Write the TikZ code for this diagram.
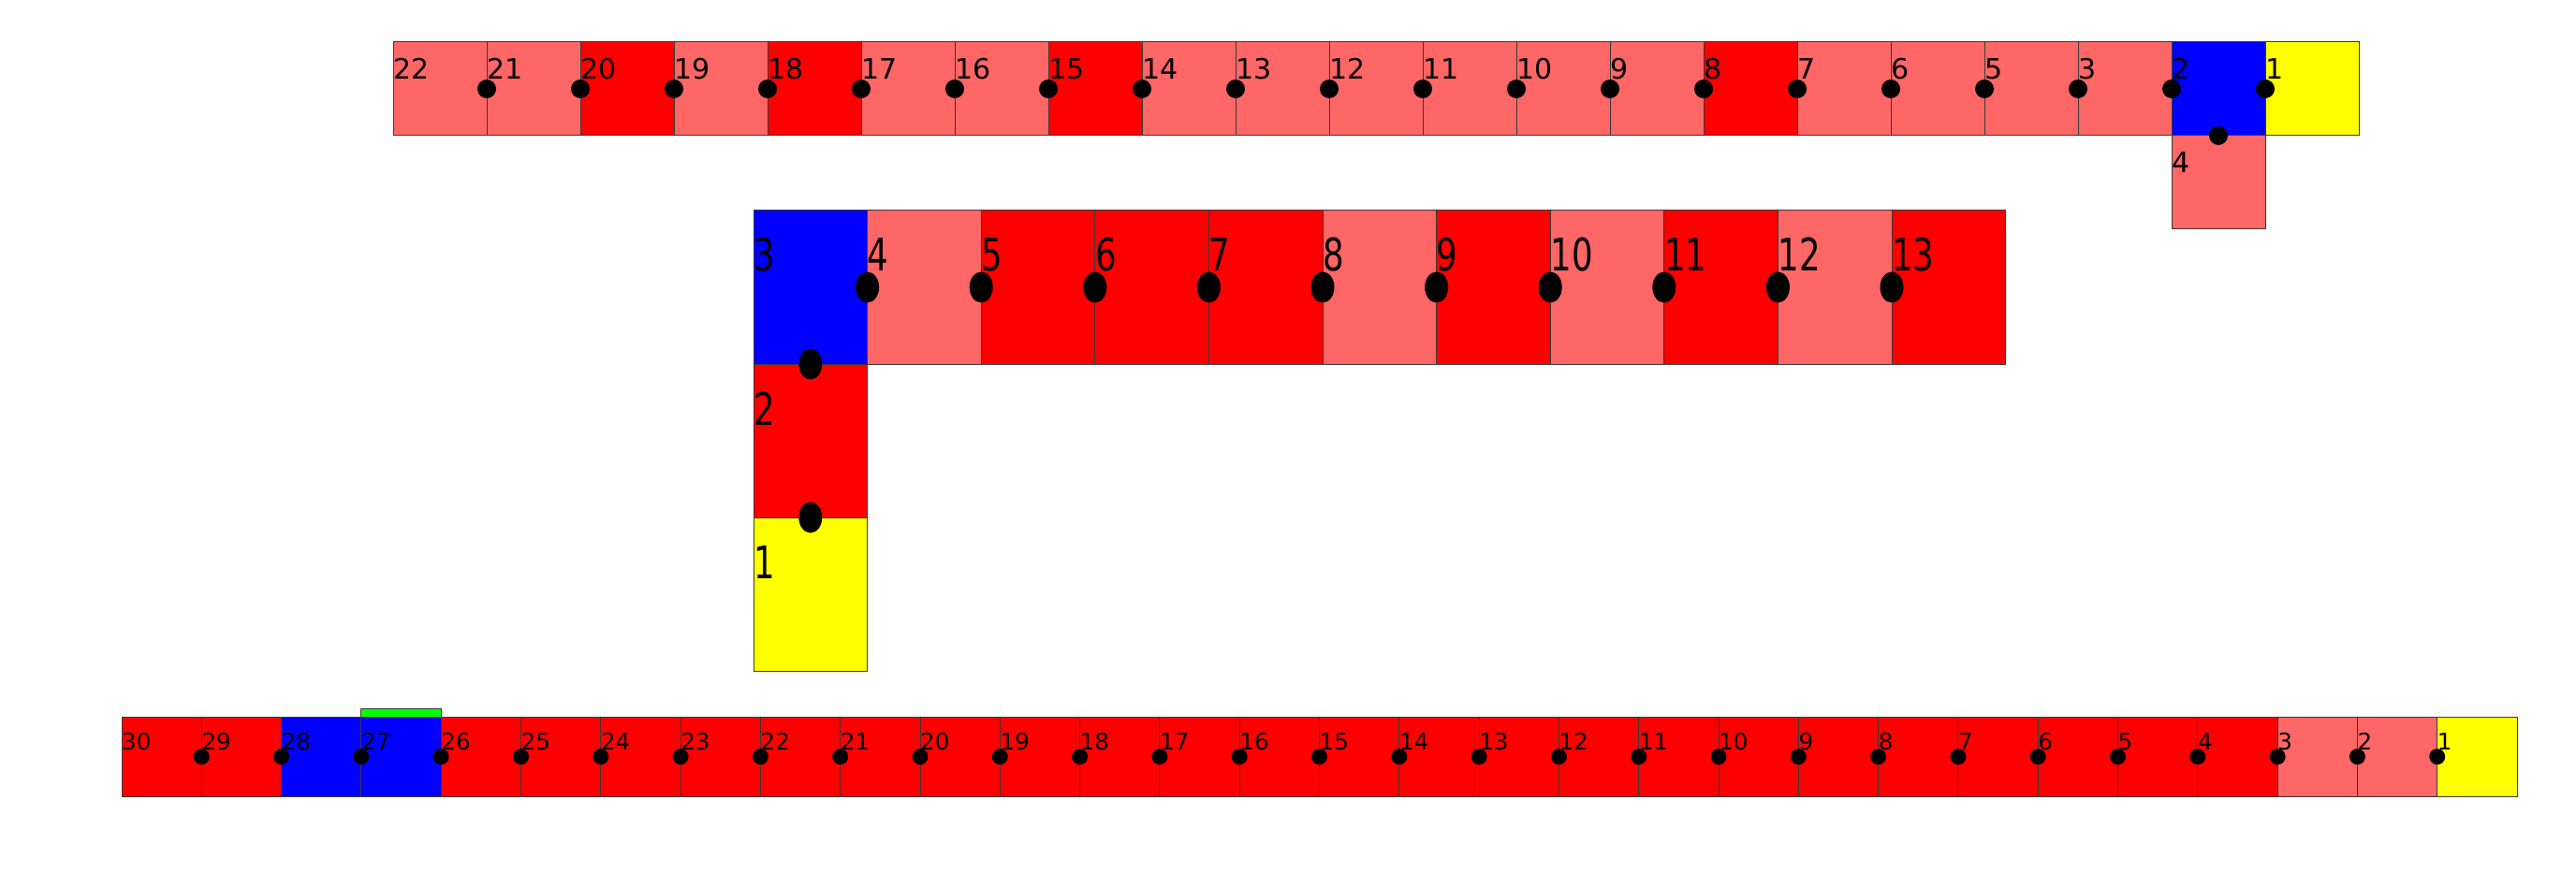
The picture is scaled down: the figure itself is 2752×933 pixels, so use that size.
\documentclass[tikz,border=0pt]{standalone}
\usepackage{fontspec}
\setmainfont{DejaVu Sans}
\usetikzlibrary{shapes.geometric}
\definecolor{lred}{HTML}{FF6666}
\definecolor{rred}{HTML}{FF0000}
\definecolor{bblue}{HTML}{0000FF}
\definecolor{yyel}{HTML}{FFFF00}
\definecolor{ggreen}{HTML}{00FF00}
\definecolor{edgec}{HTML}{3A3A3A}
\begin{document}
\begin{tikzpicture}[x=1pt,y=-1pt,
  cellbox/.style={draw=edgec, line width=1pt, inner sep=0pt, outer sep=0pt, anchor=north west},
  topcell/.style={cellbox, minimum width=100pt, minimum height=100pt},
  midcell/.style={cellbox, minimum width=121.6pt, minimum height=164pt},
  botcell/.style={cellbox, minimum width=85.3pt, minimum height=85.3pt},
  toplab/.style={anchor=base west, inner sep=0pt, font=\fontsize{30}{32}\selectfont},
  midlab/.style={anchor=base west, inner sep=0pt, font=\fontsize{48}{50}\selectfont},
  botlab/.style={anchor=base west, inner sep=0pt, font=\fontsize{24.6}{26}\selectfont},
  topdot/.style={circle, fill=black, inner sep=0pt, minimum size=20pt},
  middot/.style={ellipse, fill=black, inner sep=0pt, minimum width=25pt, minimum height=33pt},
  botdot/.style={circle, fill=black, inner sep=0pt, minimum size=17pt}
]
\useasboundingbox (0,0) rectangle (2752,933);

% ---------- top row ----------
\foreach \lab/\col [count=\i from 0] in {22/lred,21/lred,20/rred,19/lred,18/rred,17/lred,16/lred,15/rred,14/lred,13/lred,12/lred,11/lred,10/lred,9/lred,8/rred,7/lred,6/lred,5/lred,3/lred,2/bblue,1/yyel}{
  \node[topcell, fill=\col] (t\i) at ({420+100*\i},45) {};
  \node[toplab] (tl\i) at ([yshift=-40pt]t\i.north west) {\lab};
}
\node[topcell, fill=lred] (t4b) at (t19.south west) {};
\node[toplab] (tl4b) at ([yshift=-40pt]t4b.north west) {4};
\foreach \i in {1,...,20}{
  \node[topdot] (td\i) at (t\i.west) {};
}
\node[topdot] (td4b) at (t19.south) {};

% ---------- middle ----------
\foreach \lab/\col [count=\i from 0] in {3/bblue,4/lred,5/rred,6/rred,7/rred,8/lred,9/rred,10/lred,11/rred,12/lred,13/rred}{
  \node[midcell, fill=\col] (m\i) at ({805+121.6*\i},225) {};
  \node[midlab] (ml\i) at ([yshift=-65pt]m\i.north west) {\scalebox{0.74}[1]{\lab}};
}
\node[midcell, fill=rred] (mv2) at (m0.south west) {};
\node[midlab] (mlv2) at ([yshift=-65pt]mv2.north west) {\scalebox{0.74}[1]{2}};
\node[midcell, fill=yyel] (mv1) at (mv2.south west) {};
\node[midlab] (mlv1) at ([yshift=-65pt]mv1.north west) {\scalebox{0.74}[1]{1}};
\foreach \i in {1,...,10}{
  \node[middot] (md\i) at (m\i.west) {};
}
\node[middot] (mdv2) at (m0.south) {};
\node[middot] (mdv1) at (mv2.south) {};

% ---------- bottom row ----------
\foreach \lab/\col [count=\i from 0] in {30/rred,29/rred,28/bblue,27/bblue,26/rred,25/rred,24/rred,23/rred,22/rred,21/rred,20/rred,19/rred,18/rred,17/rred,16/rred,15/rred,14/rred,13/rred,12/rred,11/rred,10/rred,9/rred,8/rred,7/rred,6/rred,5/rred,4/rred,3/lred,2/lred,1/yyel}{
  \node[botcell, fill=\col] (b\i) at ({130+85.3*\i},766) {};
  \node[botlab] (bl\i) at ([yshift=-35pt]b\i.north west) {\lab};
}
\node[draw=edgec, line width=1pt, fill=ggreen, inner sep=0pt, outer sep=0pt, minimum width=85.3pt, minimum height=8.5pt, anchor=south west] (gbar) at (b3.north west) {};
\foreach \i in {1,...,29}{
  \node[botdot] (bd\i) at (b\i.west) {};
}
\end{tikzpicture}
\end{document}
